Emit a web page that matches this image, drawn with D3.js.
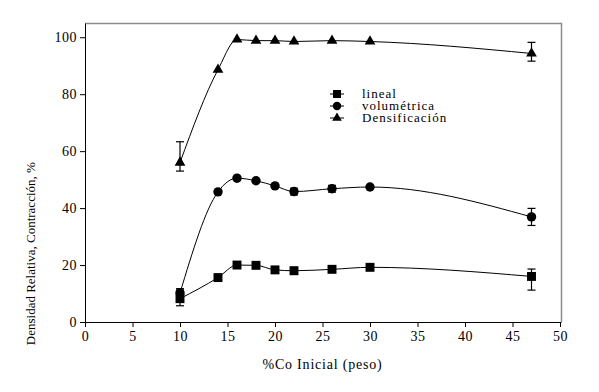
<!DOCTYPE html>
<html>
<head>
<meta charset="utf-8">
<script src="https://cdn.jsdelivr.net/npm/d3@7"></script>
<style>
  body { margin: 0; background: #fff; }
  svg text { font-family: "Liberation Serif", "Times New Roman", serif; fill: #000; }
</style>
</head>
<body>
<div id="chart"></div>
<script>
// data
const coValues = [10, 14, 16, 18, 20, 22, 26, 30, 47];
const linealValues = [8.2, 15.6, 20.0, 19.9, 18.3, 18.0, 18.5, 19.2, 16.0];
const linealErrUp = [3, 0.5, 0.5, 0.5, 0.5, 1.2, 0.5, 0.5, 2.6];
const linealErrDown = [2.5, 0.5, 0.5, 0.5, 0.5, 1.2, 0.5, 0.5, 4.8];
const volumValues = [10.2, 45.7, 50.5, 49.6, 47.8, 45.8, 46.8, 47.4, 36.9];
const volumErr = [1.5, 0.5, 0.5, 0.5, 0.5, 1.2, 1.2, 0.5, 3];
const densValues = [56.0, 88.6, 99.2, 98.8, 98.8, 98.5, 98.8, 98.5, 94.3];
const densErrUp = [7.3, 0.5, 0.5, 0.5, 0.5, 0.5, 0.5, 0.5, 3.9];
const densErrDown = [3, 0.5, 0.5, 0.5, 0.5, 0.5, 0.5, 0.5, 2.7];
const xTicks = [0, 5, 10, 15, 20, 25, 30, 35, 40, 45, 50];
const yTicks = [0, 20, 40, 60, 80, 100];
const seriesNames = ["lineal", "volumétrica", "Densificación"];

const width = 599, height = 392;
const margin = {top: 23, right: 38, bottom: 70, left: 85};
const serif = '"Liberation Serif", "Times New Roman", serif';

const svg = d3.select("#chart").append("svg")
    .attr("width", width)
    .attr("height", height);

const x = d3.scaleLinear()
    .domain([0, 50])
    .range([margin.left, width - margin.right - 1]);

const y = d3.scaleLinear()
    .domain([0, 105])
    .range([height - margin.bottom, margin.top]);

// gray frame top and right
svg.append("path")
    .attr("d", `M${x(0)},${y(105) + 0.5}H${x(50) + 1.5}V${y(0)}`)
    .attr("fill", "none")
    .attr("stroke", "#8c8c8c")
    .attr("stroke-width", 1.5);

// axes
const xAxis = d3.axisBottom(x).tickValues(xTicks).tickSize(5).tickSizeOuter(0);
const yAxis = d3.axisLeft(y).tickValues(yTicks).tickSize(5).tickSizeOuter(0);

const gx = svg.append("g")
    .attr("transform", `translate(0,${y(0)})`)
    .call(xAxis);
gx.select(".domain").attr("d", `M${x(0)},0.5H${x(50) + 1.5}`);

const gy = svg.append("g")
    .attr("transform", `translate(${x(0)},0)`)
    .call(yAxis);

svg.selectAll("g").attr("font-family", null);
svg.selectAll(".tick text")
    .style("font-size", "14px")
    .style("letter-spacing", "0.5px")
    .style("font-family", serif);
gx.selectAll(".tick text").attr("dy", "0.95em").attr("y", 6);
gy.selectAll(".tick text").attr("x", -8);
svg.selectAll(".domain, .tick line").attr("stroke", "#000");

// axis titles
svg.append("text")
    .attr("x", x(25))
    .attr("y", 369)
    .attr("text-anchor", "middle")
    .style("font-size", "14px")
    .style("letter-spacing", "0.8px")
    .style("font-family", serif)
    .text("%Co Inicial (peso)");

svg.append("text")
    .attr("transform", `translate(35,${y(24)}) rotate(-90)`)
    .attr("text-anchor", "middle")
    .style("font-size", "13px")
    .style("font-family", serif)
    .text("Densidad Relativa, Contracción, %");

const line = d3.line()
    .x(d => x(d.co))
    .y(d => y(d.v))
    .curve(d3.curveMonotoneX);

function makeSeries(vals, up, down) {
    return coValues.map((c, i) => ({co: c, v: vals[i], up: up[i], down: down[i]}));
}

const series = [
    {name: seriesNames[0], sym: d3.symbolSquare, size: 80, data: makeSeries(linealValues, linealErrUp, linealErrDown)},
    {name: seriesNames[1], sym: d3.symbolCircle, size: 70, data: makeSeries(volumValues, volumErr, volumErr)},
    {name: seriesNames[2], sym: d3.symbolTriangle, size: 50, data: makeSeries(densValues, densErrUp, densErrDown)}
];

series.forEach(s => {
    const g = svg.append("g");

    g.append("path")
        .attr("fill", "none")
        .attr("stroke", "#000")
        .attr("stroke-width", 1)
        .attr("d", line(s.data));

    // error bars
    const eb = g.selectAll(".err")
        .data(s.data.filter(d => d.up > 1 || d.down > 1))
        .enter().append("g");
    eb.append("line")
        .attr("x1", d => x(d.co)).attr("x2", d => x(d.co))
        .attr("y1", d => y(d.v + d.up)).attr("y2", d => y(d.v - d.down))
        .attr("stroke", "#000").attr("stroke-width", 1.2);
    eb.append("line")
        .attr("x1", d => x(d.co) - 4).attr("x2", d => x(d.co) + 4)
        .attr("y1", d => y(d.v + d.up)).attr("y2", d => y(d.v + d.up))
        .attr("stroke", "#000").attr("stroke-width", 1.2);
    eb.append("line")
        .attr("x1", d => x(d.co) - 4).attr("x2", d => x(d.co) + 4)
        .attr("y1", d => y(d.v - d.down)).attr("y2", d => y(d.v - d.down))
        .attr("stroke", "#000").attr("stroke-width", 1.2);

    g.selectAll(".pt")
        .data(s.data)
        .enter().append("path")
        .attr("transform", d => `translate(${x(d.co)},${y(d.v)})`)
        .attr("d", d3.symbol().type(s.sym).size(s.size))
        .attr("fill", "#000");
});

// legend
const legend = svg.append("g").attr("transform", "translate(330,94)");
series.forEach((s, i) => {
    const row = legend.append("g").attr("transform", `translate(0,${i * 12})`);
    row.append("line")
        .attr("x1", 0).attr("x2", 14)
        .attr("stroke", "#000");
    row.append("path")
        .attr("transform", "translate(7,0)")
        .attr("d", d3.symbol().type(s.sym).size(s.size * 0.8))
        .attr("fill", "#000");
    row.append("text")
        .attr("x", 32)
        .attr("dy", "0.33em")
        .style("font-size", "13px")
        .style("letter-spacing", "1px")
        .style("font-family", serif)
        .text(s.name);
});
</script>
</body>
</html>
